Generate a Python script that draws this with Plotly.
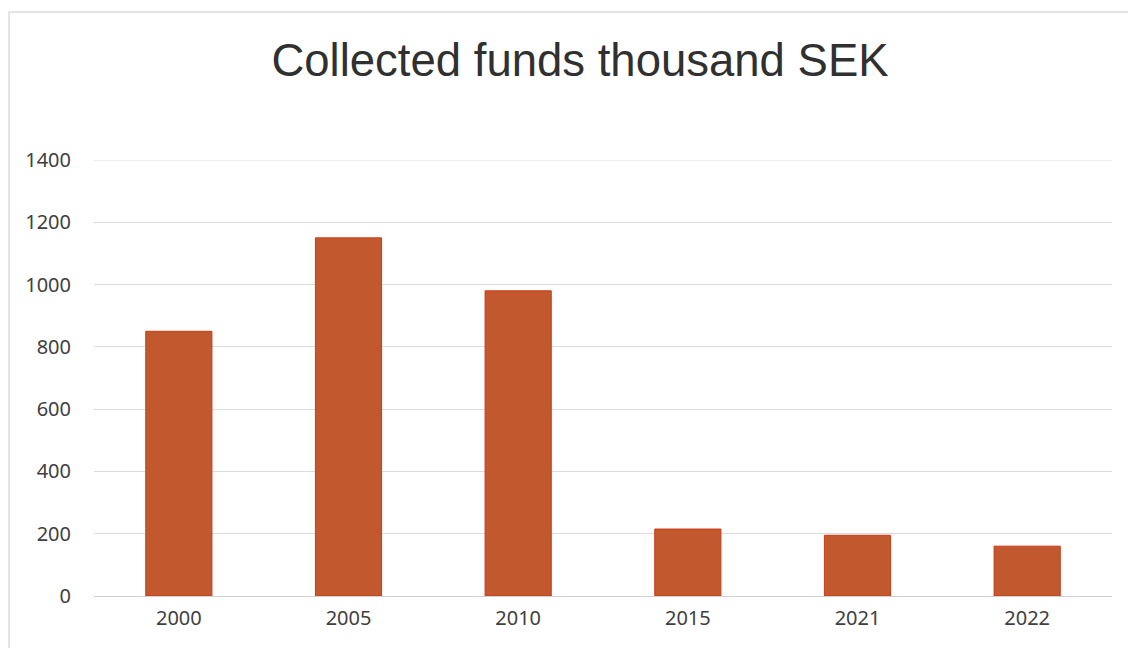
import plotly.graph_objects as go

years = ["2000", "2005", "2010", "2015", "2021", "2022"]
funds = [850, 1150, 980, 215, 195, 160]
y_ticks = [0, 200, 400, 600, 800, 1000, 1200, 1400]
title_text = "Collected funds thousand SEK"

W, H = 1136, 648
OFF = 8  # page body offset
L, R, T, B = 94 - OFF, 24 + OFF, 160 - OFF, 52 + OFF

fig = go.Figure()
fig.add_trace(go.Bar(
    x=years, y=funds,
    width=0.39,
    marker=dict(color="#C2582D", line=dict(color="#CC3A18", width=1)),
))

pw = W - L - R
ph = H - T - B
def px_x(p):
    return (p - OFF - L) / pw
def px_y(p):
    return (H - B - (p - OFF)) / ph

fig.update_layout(
    width=W, height=H,
    margin=dict(l=L, r=R, t=T, b=B, pad=0),
    paper_bgcolor="white", plot_bgcolor="white",
    showlegend=False,
    title=dict(text=title_text, x=px_x(580), xref="paper", xanchor="center",
               y=1 - (60 - OFF) / H, yanchor="middle",
               font=dict(family="Liberation Sans, Arial", size=45.5, color="#303030")),
    font=dict(family="Noto Sans", size=20, color="#404040"),
    shapes=[dict(type="rect", xref="paper", yref="paper",
                 x0=px_x(9), x1=px_x(1180), y0=px_y(720), y1=px_y(12),
                 line=dict(color="#C8C8C8", width=1), fillcolor="rgba(0,0,0,0)",
                 layer="below")],
)
fig.add_hline(y=y_ticks[-1], line=dict(color="#DCDCDC", width=1), layer="below")
fig.update_xaxes(type="category", showgrid=False, zeroline=False, showline=False,
                 ticks="", ticklabelstandoff=8,
                 tickfont=dict(family="Noto Sans", size=20, color="#404040"))
fig.update_yaxes(range=[0, 1400], tickvals=y_ticks, showgrid=True,
                 gridcolor="#DCDCDC", gridwidth=1, zeroline=True,
                 zerolinecolor="#D0D0D0", zerolinewidth=1, showline=False,
                 ticks="", ticklabelstandoff=22,
                 tickfont=dict(family="Noto Sans", size=20, color="#404040"))

fig.write_html("out.html")
